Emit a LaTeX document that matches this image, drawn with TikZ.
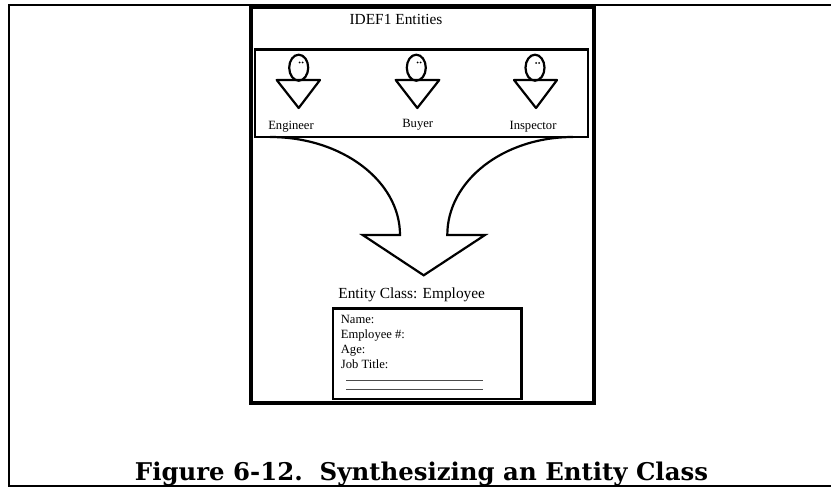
\documentclass[tikz,border=0pt]{standalone}
\usepackage{fontspec}
\setmainfont{Liberation Serif}
\newfontfamily\capfont{DejaVu Serif}
\usepackage{tikz}

\tikzset{
  frameline/.style={line width=2pt},
  thickbox/.style={line width=4pt},
  midbox/.style={line width=2.4pt},
  bodyline/.style={line width=2.2pt},
  entitylabel/.style={font=\fontsize{12.6}{14}\selectfont, inner sep=0pt, anchor=base},
  headlabel/.style={font=\fontsize{15.4}{18}\selectfont, inner sep=0pt, anchor=base},
  attrlabel/.style={font=\fontsize{12.6}{14}\selectfont, inner sep=0pt, anchor=base west}
}

\begin{document}
\begin{tikzpicture}[x=1pt,y=-1pt]
\useasboundingbox (0,0) rectangle (831,487);

% Page frame
\draw [frameline] (831,5) -- (9,5) -- (9,486) -- (831,486);

% Outer box
\draw [thickbox] (251,7) rectangle (593.5,403);
\node [headlabel] (title) at (396,24.5) {IDEF1 Entities};

% Entities
\draw [midbox] (255,49.5) rectangle (588,137);

% Engineer
\draw [bodyline] (298.7,67.7) ellipse (9.5 and 13);
\draw [bodyline, line join=round] (276.7,80) -- (320,80) -- (298.7,108) -- cycle;
\fill (299.5,62.5) circle (1);
\fill (302.5,62.5) circle (1);
\node [entitylabel] (engineer) at (291,129) {Engineer};

% Buyer
\draw [bodyline] (416.3,67.7) ellipse (9.5 and 13);
\draw [bodyline, line join=round] (395.7,80) -- (439.3,80) -- (417.3,108) -- cycle;
\fill (417.5,62.5) circle (1);
\fill (420.5,62.5) circle (1);
\node [entitylabel] (buyer) at (417.7,127.5) {Buyer};

% Inspector
\draw [bodyline] (535,67.7) ellipse (9.5 and 13);
\draw [bodyline, line join=round] (514,80) -- (557,80) -- (536,108) -- cycle;
\fill (536,63) circle (1);
\fill (539,63) circle (1);
\node [entitylabel] (inspector) at (533,129) {Inspector};

% Big arrow
\draw [bodyline, line join=miter] (270,137) .. controls (342,137) and (400,181) .. (400,235)
  -- (362.7,235) -- (423.7,275.3) -- (485,235) -- (447.3,235)
  .. controls (447.3,181) and (503,137) .. (573,137);

% Entity class
\node [headlabel] (class) at (411.7,298.5) {Entity Class: Employee};
\draw [thickbox, line width=2.8pt] (333,308.5) rectangle (521.5,399);
\node [attrlabel] (name) at (340.7,323) {Name:};
\node [attrlabel] (number) at (340.7,338) {Employee \#:};
\node [attrlabel] (age) at (340.7,353.5) {Age:};
\node [attrlabel] (job) at (340.7,368.5) {Job Title:};
\draw [line width=1.5pt, black!70] (346,380.7) -- (482.7,380.7);
\draw [line width=1.5pt, black!70] (346,389.7) -- (482.7,389.7);

% Caption
\node [font=\fontsize{24.4}{28}\selectfont\capfont\bfseries, inner sep=0pt, anchor=base] (caption) at (421.5,480) {Figure 6-12.\ \ Synthesizing an Entity Class};

\end{tikzpicture}
\end{document}
